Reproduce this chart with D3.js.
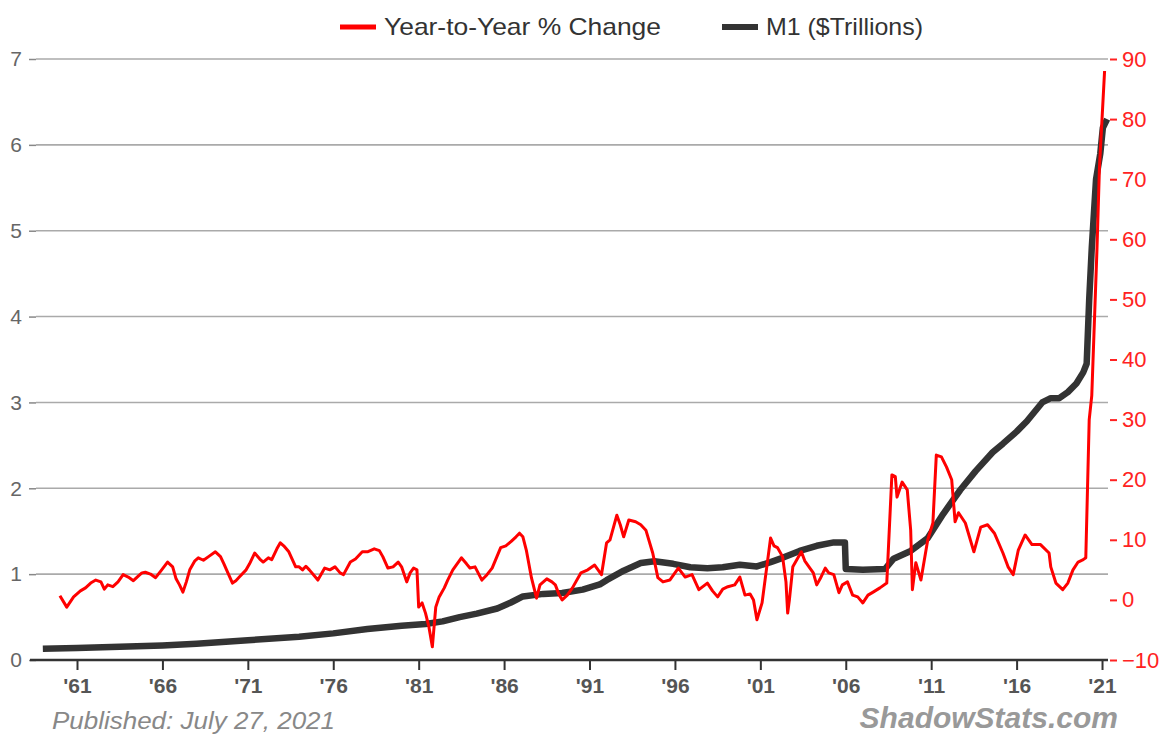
<!DOCTYPE html>
<html>
<head>
<meta charset="utf-8">
<script src="https://cdn.jsdelivr.net/npm/d3@7"></script>
<style>
  body { margin: 0; background: #fff; }
  svg { display: block; font-family: "Liberation Sans", Arial, sans-serif; }
</style>
</head>
<body>
<svg id="chart" width="1162" height="736"></svg>
<script>
// M1 ($Trillions)
const m1Years = [1959.0, 1961.0, 1963.0, 1966.0, 1968.0, 1971.0, 1974.0, 1976.0, 1978.0, 1980.0,
  1981.4, 1982.4, 1983.4, 1984.4, 1985.6, 1986.4, 1987.1, 1988.3, 1989.4, 1990.6,
  1991.6, 1992.0, 1993.0, 1994.0, 1994.8, 1995.9, 1996.9, 1997.9, 1998.8, 1999.8,
  2000.8, 2001.6, 2002.3, 2003.3, 2004.3, 2005.3, 2005.95, 2006.0, 2007.0, 2008.3,
  2008.8, 2009.8, 2010.8, 2011.7, 2012.7, 2013.6, 2014.6, 2015.2, 2016.0, 2016.6,
  2017.5, 2018.0, 2018.5, 2019.0, 2019.5, 2019.9, 2020.1, 2020.25, 2020.4, 2020.65,
  2020.9, 2021.05, 2021.3];
const m1Values = [0.13, 0.14, 0.15, 0.17, 0.19, 0.23, 0.27, 0.31, 0.36, 0.40,
  0.42, 0.45, 0.50, 0.54, 0.60, 0.67, 0.74, 0.77, 0.78, 0.82,
  0.88, 0.93, 1.04, 1.13, 1.15, 1.12, 1.08, 1.07, 1.08, 1.11,
  1.09, 1.14, 1.19, 1.27, 1.33, 1.37, 1.37, 1.06, 1.05, 1.06,
  1.18, 1.27, 1.42, 1.70, 1.98, 2.20, 2.42, 2.52, 2.66, 2.78,
  3.00, 3.05, 3.05, 3.12, 3.22, 3.35, 3.45, 4.20, 4.80, 5.60,
  5.90, 6.20, 6.30];

// Year-to-year % change
const yoyYears = [1960.0, 1960.4, 1960.8, 1961.2, 1961.5, 1961.8, 1962.1, 1962.4, 1962.6, 1962.8,
  1963.1, 1963.4, 1963.7, 1964.0, 1964.3, 1964.6, 1964.8, 1965.0, 1965.3, 1965.6,
  1965.9, 1966.3, 1966.6, 1966.8, 1967.0, 1967.2, 1967.4, 1967.6, 1967.9, 1968.1,
  1968.4, 1968.7, 1969.1, 1969.4, 1969.6, 1969.8, 1970.1, 1970.3, 1970.5, 1970.9,
  1971.1, 1971.4, 1971.7, 1971.9, 1972.2, 1972.4, 1972.7, 1972.9, 1973.1, 1973.4,
  1973.8, 1974.0, 1974.2, 1974.4, 1974.6, 1975.1, 1975.5, 1975.8, 1976.1, 1976.4,
  1976.6, 1977.0, 1977.3, 1977.7, 1978.0, 1978.4, 1978.7, 1978.9, 1979.2, 1979.5,
  1979.8, 1980.0, 1980.3, 1980.5, 1980.7, 1980.9, 1981.0, 1981.2, 1981.4, 1981.6,
  1981.8, 1982.0, 1982.2, 1982.5, 1982.7, 1983.0, 1983.5, 1983.8, 1984.0, 1984.3,
  1984.7, 1985.0, 1985.3, 1985.8, 1986.1, 1986.4, 1986.7, 1986.9, 1987.1, 1987.3,
  1987.6, 1987.9, 1988.1, 1988.5, 1988.8, 1989.0, 1989.2, 1989.4, 1989.7, 1990.0,
  1990.5, 1990.9, 1991.3, 1991.7, 1992.0, 1992.2, 1992.6, 1992.8, 1993.0, 1993.3,
  1993.7, 1994.0, 1994.3, 1994.7, 1995.0, 1995.3, 1995.7, 1996.0, 1996.2, 1996.6,
  1997.0, 1997.4, 1997.9, 1998.2, 1998.5, 1998.8, 1999.1, 1999.5, 1999.8, 2000.1,
  2000.4, 2000.6, 2000.8, 2001.1, 2001.4, 2001.6, 2001.8, 2002.0, 2002.3, 2002.5,
  2002.6, 2002.7, 2002.9, 2003.1, 2003.4, 2003.6, 2003.9, 2004.1, 2004.3, 2004.5,
  2004.8, 2005.0, 2005.3, 2005.6, 2005.8, 2006.1, 2006.4, 2006.7, 2007.0, 2007.3,
  2007.6, 2008.0, 2008.4, 2008.7, 2008.9, 2009.0, 2009.3, 2009.6, 2009.8, 2009.9,
  2010.1, 2010.4, 2010.8, 2011.1, 2011.3, 2011.6, 2011.9, 2012.2, 2012.4, 2012.6,
  2013.0, 2013.5, 2013.9, 2014.3, 2014.7, 2015.2, 2015.5, 2015.8, 2016.1, 2016.5,
  2016.9, 2017.4, 2017.9, 2018.0, 2018.3, 2018.7, 2019.0, 2019.3, 2019.6, 2019.9,
  2020.05, 2020.25, 2020.4, 2020.7, 2020.85, 2021.0, 2021.15];
const yoyValues = [0.7, -1.2, 0.5, 1.5, 2.0, 2.8, 3.3, 3.0, 1.8, 2.5,
  2.2, 3.0, 4.2, 3.8, 3.2, 4.0, 4.5, 4.6, 4.3, 3.7,
  4.8, 6.3, 5.5, 3.5, 2.5, 1.3, 3.0, 5.0, 6.5, 7.0,
  6.6, 7.2, 8.0, 7.2, 6.0, 4.7, 2.8, 3.2, 3.8, 5.0,
  6.0, 7.8, 6.8, 6.3, 7.0, 6.7, 8.5, 9.5, 9.0, 8.0,
  5.5, 5.5, 5.0, 5.6, 5.0, 3.3, 5.3, 5.0, 5.5, 4.5,
  4.2, 6.3, 6.8, 8.0, 8.0, 8.5, 8.2, 7.2, 5.3, 5.5,
  6.3, 5.5, 3.0, 4.5, 5.3, 5.0, -1.2, -0.5, -2.2, -4.5,
  -7.8, -1.2, 0.5, 2.0, 3.3, 5.0, 7.0, 6.0, 5.3, 5.5,
  3.3, 4.2, 5.3, 8.7, 9.0, 9.7, 10.5, 11.1, 10.5, 8.3,
  3.7, 0.3, 2.5, 3.5, 3.0, 2.5, 1.0, 0.0, 0.8, 2.0,
  4.5, 5.0, 5.8, 4.2, 9.5, 10.0, 14.1, 12.5, 10.5, 13.3,
  13.0, 12.5, 11.6, 7.8, 3.7, 3.0, 3.3, 4.5, 5.3, 3.8,
  4.2, 1.7, 2.8, 1.5, 0.5, 1.8, 2.2, 2.5, 3.8, 0.8,
  1.0, 0.0, -3.3, -0.5, 6.0, 10.3, 9.0, 8.7, 7.2, 3.0,
  -2.2, 0.0, 5.5, 6.5, 8.0, 6.5, 5.3, 4.5, 2.5, 3.5,
  5.3, 4.5, 4.2, 1.2, 2.5, 3.0, 0.8, 0.5, -0.5, 0.8,
  1.3, 2.0, 2.8, 20.8, 20.5, 17.1, 19.6, 18.3, 11.6, 1.7,
  6.2, 3.3, 10.0, 12.8, 24.1, 23.8, 22.1, 20.0, 13.0, 14.5,
  12.8, 8.0, 12.1, 12.5, 11.1, 7.8, 5.5, 4.2, 8.3, 10.8,
  9.2, 9.2, 7.8, 5.5, 2.8, 1.7, 2.8, 5.0, 6.3, 6.7,
  7.0, 30.0, 34.0, 58.0, 72.0, 80.0, 88.0];

const yearTicks = [1961, 1966, 1971, 1976, 1981, 1986, 1991, 1996, 2001, 2006, 2011, 2016, 2021];
const leftTicks = [0, 1, 2, 3, 4, 5, 6, 7];
const rightTicks = [-10, 0, 10, 20, 30, 40, 50, 60, 70, 80, 90];

const svg = d3.select("#chart");
const plot = { left: 36, right: 1108, top: 59, bottom: 660 };

const x = d3.scaleLinear().domain([1958.6, 2021.35]).range([plot.left, plot.right]);
const yL = d3.scaleLinear().domain([0, 7]).range([plot.bottom, plot.top]);
const yR = d3.scaleLinear().domain([-10, 90]).range([plot.bottom, plot.top]);

// left axis + gridlines
const gl = svg.append("g")
  .attr("transform", `translate(${plot.left},0)`)
  .call(d3.axisLeft(yL).tickValues(leftTicks).tickSize(7).tickPadding(7)
    .tickFormat(d3.format("d")));
gl.select(".domain").remove();
gl.selectAll(".tick line").attr("stroke", "#888").attr("stroke-width", 1.5);
gl.selectAll(".tick text").attr("fill", "#666").style("font-size", "21px");

svg.append("g").selectAll("line")
  .data(leftTicks.filter(d => d > 0))
  .enter().append("line")
  .attr("x1", plot.left).attr("x2", plot.right)
  .attr("y1", d => yL(d)).attr("y2", d => yL(d))
  .attr("stroke", "#aaa").attr("stroke-width", 1.6);

// right axis
const gr = svg.append("g")
  .attr("transform", `translate(${plot.right + 2},0)`)
  .call(d3.axisRight(yR).tickValues(rightTicks).tickSize(7).tickPadding(5));
gr.select(".domain").remove();
gr.selectAll(".tick line").attr("stroke", "#f22").attr("stroke-width", 2);
gr.selectAll(".tick text").attr("fill", "#f22").style("font-size", "22px");

// bottom axis
const gx = svg.append("g")
  .attr("transform", `translate(0,${plot.bottom})`)
  .call(d3.axisBottom(x).tickValues(yearTicks).tickSize(10).tickPadding(8)
    .tickFormat(d => "'" + String(d).slice(2)));
gx.select(".domain").attr("stroke", "#333").attr("stroke-width", 2.5)
  .attr("d", `M${plot.left - 6},0H${plot.right}`);
gx.selectAll(".tick line").attr("stroke", "#333").attr("stroke-width", 2);
gx.selectAll(".tick text").attr("fill", "#555").style("font-size", "21px").style("font-weight", "bold");

// M1 line
const m1Line = d3.line().x(d => x(d[0])).y(d => yL(d[1]));
svg.append("path")
  .datum(d3.zip(m1Years, m1Values))
  .attr("d", m1Line)
  .attr("fill", "none").attr("stroke", "#333").attr("stroke-width", 6.5)
  .attr("stroke-linejoin", "round");

// YoY line
const yoyLine = d3.line().x(d => x(d[0])).y(d => yR(d[1]));
svg.append("path")
  .datum(d3.zip(yoyYears, yoyValues))
  .attr("d", yoyLine)
  .attr("fill", "none").attr("stroke", "#f00").attr("stroke-width", 3)
  .attr("stroke-linejoin", "round");

// legend
const legend = [
  { label: "Year-to-Year % Change", color: "#f00", w: 5, x: 340, len: 277 },
  { label: "M1 ($Trillions)", color: "#333", w: 6, x: 722, len: 157 }
];
const lg = svg.append("g").selectAll("g").data(legend).enter().append("g")
  .attr("transform", d => `translate(${d.x},27)`);
lg.append("line").attr("x1", 0).attr("x2", 36).attr("y1", 0).attr("y2", 0)
  .attr("stroke", d => d.color).attr("stroke-width", d => d.w);
lg.append("text").attr("x", 44).attr("y", 8).text(d => d.label)
  .attr("textLength", d => d.len).attr("lengthAdjust", "spacingAndGlyphs")
  .attr("fill", "#333").style("font-size", "24px");

// footer
svg.append("text").attr("x", 52).attr("y", 729)
  .text("Published: July 27, 2021")
  .attr("textLength", 283).attr("lengthAdjust", "spacingAndGlyphs")
  .attr("fill", "#888").style("font-size", "23px").style("font-style", "italic");
svg.append("text").attr("x", 1118).attr("y", 728).attr("text-anchor", "end")
  .text("ShadowStats.com")
  .attr("fill", "#999").style("font-size", "30px").style("font-style", "italic").style("font-weight", "bold");
</script>
</body>
</html>
